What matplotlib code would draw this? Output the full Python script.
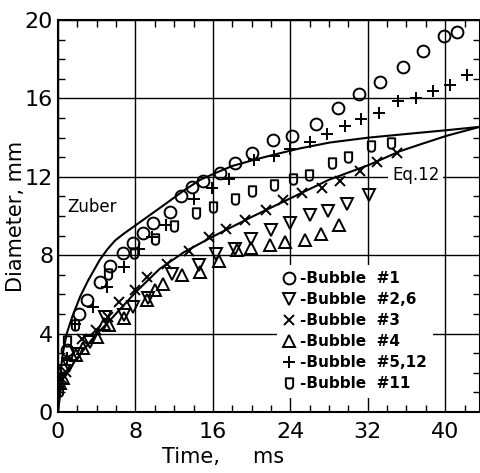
import matplotlib
matplotlib.use('Agg')
import matplotlib.pyplot as plt
from matplotlib.path import Path

# 読み取ったデータ (時間 ms, 直径 mm)
b1_t = [0.9, 2.2, 3.0, 4.3, 5.4, 6.7, 7.8, 8.8, 9.8, 11.6, 12.7, 13.8, 15.0, 16.7, 18.3,
        20.0, 22.2, 24.2, 26.7, 28.9, 31.1, 33.3, 35.6, 37.7, 39.9, 41.2]
b1_d = [3.15, 5.0, 5.7, 6.65, 7.45, 8.1, 8.6, 9.15, 9.65, 10.2, 11.0, 11.5, 11.8, 12.2, 12.7,
        13.2, 13.9, 14.1, 14.7, 15.5, 16.2, 16.85, 17.6, 18.4, 19.2, 19.4]

b26_t = [0.6, 1.1, 2.0, 3.3, 4.9, 6.8, 7.8, 9.3, 11.8, 14.6, 16.3, 18.3, 19.9, 22.0, 24.0,
         26.0, 27.9, 29.9, 32.1]
b26_d = [2.1, 2.35, 2.95, 3.55, 4.85, 4.95, 5.35, 5.8, 7.05, 7.5, 8.05, 8.3, 8.85, 9.3, 9.65,
         10.05, 10.25, 10.6, 11.05]

b3_t = [0.4, 0.8, 2.5, 3.9, 5.2, 6.3, 8.0, 9.2, 11.3, 13.5, 15.6, 17.4, 19.3, 21.5, 23.2,
        25.2, 27.3, 29.1, 31.2, 33.0, 35.0]
b3_d = [1.7, 2.05, 3.75, 4.2, 4.85, 5.6, 6.2, 6.9, 7.55, 8.2, 8.95, 9.35, 9.8, 10.3, 10.8,
        11.15, 11.45, 11.8, 12.3, 12.75, 13.2]

b4_t = [0.2, 0.5, 1.9, 2.6, 4.0, 4.8, 5.3, 6.8, 9.2, 10.0, 10.9, 12.8, 14.7, 16.6, 18.5,
        19.9, 21.9, 23.5, 25.5, 27.2, 29.0]
b4_d = [1.5, 1.75, 2.9, 3.25, 3.85, 4.5, 4.45, 4.8, 5.7, 6.2, 6.55, 7.0, 7.15, 7.7, 8.25,
        8.35, 8.5, 8.65, 8.8, 9.1, 9.55]

b512_t = [0.9, 1.8, 3.6, 5.1, 6.8, 8.4, 9.7, 11.2, 14.0, 15.9, 17.7, 20.2, 22.3, 24.0, 26.0,
          27.8, 29.7, 31.3, 33.2, 35.1, 37.0, 38.7, 40.5, 42.3]
b512_d = [2.75, 4.5, 5.35, 6.4, 7.4, 8.3, 8.95, 9.55, 10.85, 11.45, 11.9, 12.85, 13.05, 13.4, 13.8,
          14.2, 14.6, 14.95, 15.25, 15.85, 16.0, 16.4, 16.7, 17.2]

b11_t = [0.15, 0.9, 1.8, 5.2, 7.9, 10.0, 12.0, 14.3, 16.0, 18.3, 20.0, 22.3, 24.3, 25.9,
         28.3, 30.0, 32.3, 34.4]
b11_d = [1.05, 3.6, 4.45, 7.05, 8.1, 8.85, 9.5, 10.15, 10.45, 10.85, 11.3, 11.6, 11.9, 12.1,
         12.7, 13.0, 13.55, 13.7]

zuber_t = [0, 0.2, 0.5, 0.9, 1.5, 2.3, 3.1, 4.3, 5.1, 5.9, 6.8, 7.8, 9.5, 11.2, 13.0, 14.7,
           16.3, 18.0, 20.5, 22.9, 25.0, 28.1, 32.1, 37.4, 40.2, 43.6]
zuber_d = [0, 1.8, 3.0, 4.0, 4.9, 5.9, 6.7, 7.75, 8.3, 8.75, 9.1, 9.45, 10.05, 10.65, 11.3, 11.85,
           12.2, 12.55, 12.9, 13.2, 13.45, 13.75, 14.0, 14.25, 14.38, 14.55]

eq12_t = [0, 0.4, 1.75, 3.5, 5.5, 8.0, 10.5, 13.0, 15.8, 20.0, 24.0, 28.0, 32.1, 35.3, 37.4,
          40.2, 43.6]
eq12_d = [0, 1.6, 2.6, 3.7, 4.75, 6.1, 7.3, 8.15, 8.9, 9.95, 10.9, 11.85, 12.6, 13.3, 13.65,
          14.1, 14.55]

labels = ['-Bubble  #1', '-Bubble  #2,6', '-Bubble  #3', '-Bubble  #4',
          '-Bubble  #5,12', '-Bubble  #11']

# "0" 形のマーカー（上が平ら、下が丸い）
zero_marker = Path(
    [(-0.7, 1.0), (0.7, 1.0), (0.7, -0.3), (0.7, -1.0), (0.0, -1.0),
     (-0.7, -1.0), (-0.7, -0.3), (-0.7, 1.0)],
    [Path.MOVETO, Path.LINETO, Path.LINETO, Path.CURVE3, Path.CURVE3,
     Path.CURVE3, Path.CURVE3, Path.CLOSEPOLY])

plt.rcParams['font.family'] = 'DejaVu Sans'

fig = plt.figure(figsize=(4.81, 4.73), dpi=100)
ax = fig.add_axes([58 / 481, 61 / 473, 422 / 481, 392 / 473])

ax.plot(zuber_t, zuber_d, color='black', lw=1.5)
ax.plot(eq12_t, eq12_d, color='black', lw=1.5)

mk = dict(linestyle='none', color='black', mfc='none', mew=1.4)
h1, = ax.plot(b1_t, b1_d, marker='o', ms=8.5, **mk)
h2, = ax.plot(b26_t, b26_d, marker='v', ms=8, **mk)
h3, = ax.plot(b3_t, b3_d, marker='x', ms=7, **mk)
h4, = ax.plot(b4_t, b4_d, marker='^', ms=8, **mk)
h5, = ax.plot(b512_t, b512_d, marker='+', ms=8, **mk)
h6, = ax.plot(b11_t, b11_d, marker=zero_marker, ms=7.5, **mk)

ax.text(1.0, 10.45, 'Zuber', fontsize=12, va='center', ha='left')
ax.text(34.5, 12.1, 'Eq.12', fontsize=12, va='center', ha='left',
        bbox=dict(facecolor='white', edgecolor='none', pad=3))

ax.set_xlim(0, 43.6)
ax.set_ylim(0, 20)
ax.set_xticks([0, 8, 16, 24, 32, 40])
ax.set_yticks([0, 4, 8, 12, 16, 20])
ax.set_xticks(range(0, 44, 2), minor=True)
ax.set_yticks(range(0, 21), minor=True)
ax.tick_params(which='both', direction='in', top=True, right=True)
ax.tick_params(which='major', length=0, labelsize=16)
ax.tick_params(axis='x', which='major', pad=7)
ax.tick_params(axis='y', which='major', pad=3.5)
ax.tick_params(which='minor', length=5, width=1)
ax.grid(True, which='major', color='black', lw=1.0)
for s in ax.spines.values():
    s.set_linewidth(1.5)

ax.set_xlabel('Time,     ms', fontsize=15)
ax.set_ylabel('Diameter, mm', fontsize=15)
ax.xaxis.set_label_coords(0.39, -0.09)
ax.yaxis.set_label_coords(-0.075, 0.5)

leg = ax.legend([h1, h2, h3, h4, h5, h6], labels, loc='upper left',
                bbox_to_anchor=(0.5, 0.395), numpoints=1, handlelength=0.8,
                handletextpad=0.3, labelspacing=0.4, borderpad=0.4,
                prop={'size': 11, 'weight': 'bold'}, frameon=True, fancybox=False)
leg.get_frame().set_facecolor('white')
leg.get_frame().set_edgecolor('none')
leg.get_frame().set_alpha(1)

fig.savefig('out.png', dpi=100)
